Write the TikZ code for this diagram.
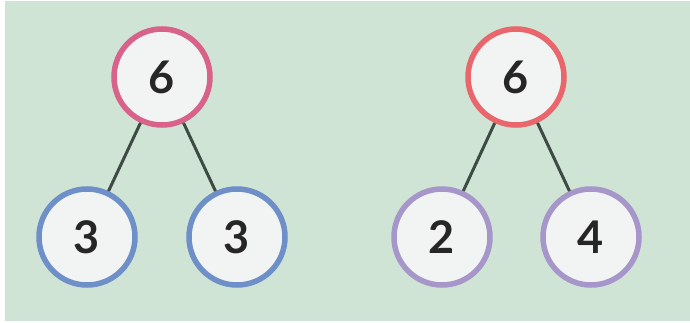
\documentclass[tikz,border=0pt]{standalone}
\usepackage{fontspec}
\setmainfont{Lato}
\definecolor{bg}{HTML}{CFE4D5}
\definecolor{fillc}{HTML}{F2F4F3}
\definecolor{pinkc}{HTML}{D9628A}
\definecolor{redc}{HTML}{E8666C}
\definecolor{bluec}{HTML}{6F8FC8}
\definecolor{purplec}{HTML}{A696CA}
\definecolor{linec}{HTML}{3E4A44}
\tikzset{
  num/.style={circle, draw=#1, line width=5.5pt, fill=fillc, minimum size=96pt, inner sep=0pt,
    font=\fontsize{45}{45}\selectfont\bfseries, text=black!85},
  link/.style={draw=linec, line width=3pt}
}
\begin{document}
\begin{tikzpicture}[x=1pt,y=-1pt]
\useasboundingbox (0,0) rectangle (690,323);
\fill[white] (0,0) rectangle (690,323);
\fill[bg] (5,1) rectangle (690,321);
\node[num=pinkc] (a) at (162,77) {6};
\node[num=bluec] (a1) at (87,237) {3};
\node[num=bluec] (a2) at (237,237) {3};
\node[num=redc] (b) at (516,77) {6};
\node[num=purplec] (b1) at (442,237) {2};
\node[num=purplec] (b2) at (591,237) {4};
\draw[link] (a) -- (a1);
\draw[link] (a) -- (a2);
\draw[link] (b) -- (b1);
\draw[link] (b) -- (b2);
\end{tikzpicture}
\end{document}
